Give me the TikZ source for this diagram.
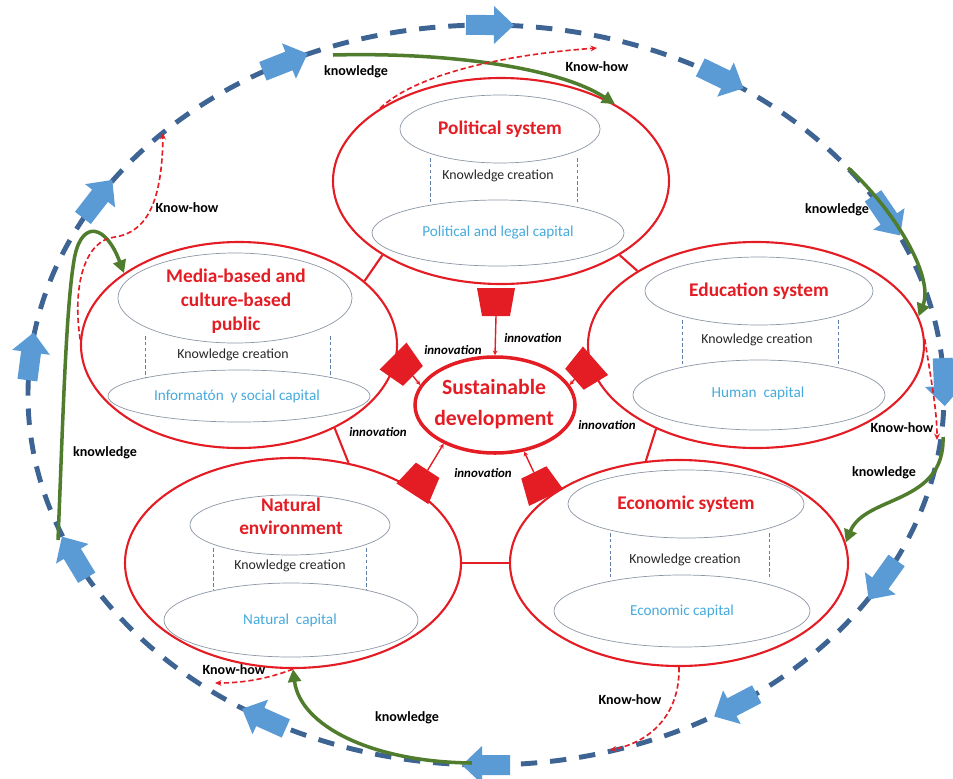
\documentclass[tikz,border=0pt]{standalone}
\usepackage{fontspec}
\setmainfont{Carlito}
\usetikzlibrary{shapes.geometric,arrows.meta,calc}
\definecolor{rl}{RGB}{228,28,36}
\definecolor{grayline}{RGB}{140,150,165}
\definecolor{dblue}{RGB}{95,125,165}
\definecolor{capblue}{RGB}{70,170,220}
\definecolor{grn}{RGB}{80,125,45}
\definecolor{bfill}{RGB}{91,155,213}
\definecolor{bdash}{RGB}{62,100,148}
\begin{document}
\begin{tikzpicture}[x=0.03cm,y=-0.03cm,
  outerell/.style={ellipse, draw=rl, line width=1.8pt, inner sep=0pt},
  innerell/.style={ellipse, draw=grayline, line width=0.6pt, inner sep=0pt},
  titletxt/.style={text=rl, font=\fontsize{16.5}{20.5}\selectfont\bfseries, align=center, inner sep=0pt},
  kctxt/.style={font=\fontsize{11.8}{14}\selectfont, text=black!85, inner sep=0pt},
  captxt/.style={font=\fontsize{13}{15}\selectfont, text=capblue, inner sep=0pt},
  labtxt/.style={font=\fontsize{12}{14}\selectfont\bfseries, inner sep=0pt},
  innotxt/.style={font=\fontsize{11}{13}\selectfont\bfseries\itshape, inner sep=0pt},
  dline/.style={draw=dblue, line width=0.8pt, dash pattern=on 3pt off 2pt},
  blkfill/.style={fill=rl},
  inline/.style={draw=rl, line width=1.2pt, -{Stealth[length=4pt,width=4pt]}},
  conline/.style={draw=rl, line width=1.8pt},
  grarrow/.style={draw=grn, line width=3pt, -{Triangle[length=11pt,width=11pt]}},
  kharrow/.style={draw=rl, line width=1.4pt, dash pattern=on 4.5pt off 2.5pt, -{Stealth[length=5.5pt,width=5pt]}},
  barrow/.style={fill=bfill}
]
\useasboundingbox (0,0) rectangle (953,778);
\clip (0,0) rectangle (953,778);

% outer dashed cycle
\draw[draw=bdash, line width=4.2pt, dash pattern=on 14pt off 11pt] (486,395) ellipse [x radius=13.74cm, y radius=11.1cm];
\foreach \t in {89.5,116,148,174,206,241,270,303,330,2,29,59} {
  \pgfmathsetmacro\bx{486+458*cos(\t)}
  \pgfmathsetmacro\by{395-370*sin(\t)}
  \pgfmathsetmacro\ba{atan2(-370*cos(\t),458*sin(\t))}
  \begin{scope}[shift={(\bx,\by)}, rotate=\ba]
    \fill[barrow] (-24,-10) -- (4,-10) -- (4,-19) -- (24,0) -- (4,19) -- (4,10) -- (-24,10) -- cycle;
  \end{scope}
}

% outer system ellipses
\node[outerell, minimum width=10.08cm, minimum height=6.18cm] (pol) at (501,181) {};
\node[outerell, minimum width=9.48cm, minimum height=6.18cm] (med) at (239,345) {};
\node[outerell, minimum width=10.08cm, minimum height=6.18cm] (edu) at (756,345) {};
\node[outerell, minimum width=10.08cm, minimum height=6.30cm] (nat) at (293,563) {};
\node[outerell, minimum width=10.14cm, minimum height=6.18cm] (eco) at (679,563) {};

% connecting lines
\draw[conline] (pol.212) -- (med.27);
\draw[conline] (pol.-32) -- (edu.148);
\draw[conline] (med.-41) -- (nat.61);
\draw[conline] (edu.220) -- (eco.108);
\draw[conline] (nat.0) -- (eco.180);

% Political system
\node[innerell, minimum width=6cm, minimum height=2.04cm] (pt) at (500,129) {};
\node[titletxt] (ptt) at (pt) {Political system};
\node[innerell, minimum width=7.56cm, minimum height=1.98cm] (pb) at (498,233) {};
\node[captxt] (pbt) at (pb) {Political and legal capital};
\node[kctxt] (pk) at (498,176) {Knowledge creation};
\draw[dline] (430,158) -- (430,202);
\draw[dline] (577,158) -- (577,202);

% Media
\node[innerell, minimum width=7.02cm, minimum height=2.7cm] (mt) at (235,298) {};
\node[titletxt] (mtt) at (236,301) {Media-based and\\culture-based\\public};
\node[innerell, minimum width=7.86cm, minimum height=1.56cm] (mb) at (239,396) {};
\node[captxt] (mbt) at (237,396) {Informatón~ y social capital};
\node[kctxt] (mk) at (233,355) {Knowledge creation};
\draw[dline] (145,336) -- (145,378);
\draw[dline] (330,336) -- (330,378);

% Education
\node[innerell, minimum width=6.84cm, minimum height=2.04cm] (et) at (759,291) {};
\node[titletxt] (ett) at (et) {Education system};
\node[innerell, minimum width=7.56cm, minimum height=2.1cm] (eb) at (759,395) {};
\node[captxt] (ebt) at (758,393) {Human~ capital};
\node[kctxt] (ek) at (757,340) {Knowledge creation};
\draw[dline] (682,320) -- (682,364);
\draw[dline] (838,320) -- (838,364);

% Natural
\node[innerell, minimum width=6cm, minimum height=1.8cm] (nt) at (290,525) {};
\node[titletxt] (ntt) at (291,516) {Natural\\[-1pt]environment};
\node[innerell, minimum width=7.62cm, minimum height=2.22cm] (nb) at (291,620) {};
\node[captxt] (nbt) at (290,620) {Natural~ capital};
\node[kctxt] (nk) at (290,566) {Knowledge creation};
\draw[dline] (213,548) -- (213,590);
\draw[dline] (366,548) -- (366,590);

% Economic
\node[innerell, minimum width=7.08cm, minimum height=2.04cm] (ct) at (686,504) {};
\node[titletxt] (ctt) at (ct) {Economic system};
\node[innerell, minimum width=7.68cm, minimum height=2.16cm] (cb) at (682,611) {};
\node[captxt] (cbt) at (cb) {Economic capital};
\node[kctxt] (ck) at (685,560) {Knowledge creation};
\draw[dline] (610,533) -- (610,577);
\draw[dline] (769,533) -- (769,577);

% Sustainable development
\node[ellipse, draw=rl, line width=3pt, minimum width=4.8cm, minimum height=2.88cm, inner sep=0pt] (sd) at (495,405) {};
\node[text=rl, font=\fontsize{18.5}{27}\selectfont\bfseries, align=center, inner sep=0pt] (sdt) at (494,404) {Sustainable\\development};

% innovation blocks (trapezoids pointing toward the centre)
\foreach \name/\cx/\cy/\ang in {b1/496/302/-90, b2/403/366/-45, b3/585/370/-138.6, b4/420/482/57, b5/540/485/116} {
  \begin{scope}[shift={(\cx,\cy)}, rotate=\ang]
    \fill[blkfill] (-14,-19) -- (14,-14) -- (14,14) -- (-14,19) -- cycle;
    \coordinate (\name) at (14,0);
  \end{scope}
}
\draw[inline] (b1) -- (sd.90);
\draw[inline] (b2) -- (sd.165);
\draw[inline] (b3) -- (sd.15);
\draw[inline] (b4) -- (sd.217);
\draw[inline] (b5) -- (sd.302);
\node[innotxt] (i1) at (533,338) {innovation};
\node[innotxt] (i2) at (453,350) {innovation};
\node[innotxt] (i3) at (378,432) {innovation};
\node[innotxt] (i4) at (607,425) {innovation};
\node[innotxt] (i5) at (483,473) {innovation};

% green knowledge arrows
\coordinate (g1s) at (333,55);
\coordinate (g2s) at (848,168);
\coordinate (g3s) at (943,437);
\coordinate (g4s) at (472,763);
\coordinate (g5s) at (58,540);
\draw[grarrow] (g1s) .. controls (450,52) and (560,68) .. (pol.34);
\draw[grarrow] (g2s) .. controls (890,205) and (935,275) .. (edu.10);
\draw[grarrow] (g3s) .. controls (945,505) and (865,495) .. (eco.7);
\draw[grarrow] (g4s) .. controls (370,762) and (300,725) .. (nat.south);
\draw[grarrow] (g5s) .. controls (63,420) and (66,300) .. (75,255) .. controls (83,220) and (106,225) .. (med.148);

% know-how dashed arrows
\coordinate (k1e) at (597,48);
\coordinate (k2e) at (163,133);
\coordinate (k3e) at (937,440);
\coordinate (k4e) at (215,683);
\coordinate (k5e) at (610,750);
\draw[kharrow] (pol.149) .. controls (415,75) and (500,55) .. (k1e);
\draw[kharrow] (med.178) .. controls (72,285) and (85,240) .. (115,237) .. controls (148,232) and (162,200) .. (k2e);
\draw[kharrow] (edu.2) .. controls (931,380) and (937,410) .. (k3e);
\draw[kharrow] (nat.south) .. controls (270,678) and (245,683) .. (k4e);
\draw[kharrow] (eco.south) .. controls (680,715) and (650,742) .. (k5e);

% labels
\node[labtxt] (l1) at (356,72) {knowledge};
\node[labtxt] (l2) at (597,67) {Know-how};
\node[labtxt] (l3) at (187,208) {Know-how};
\node[labtxt] (l4) at (837,210) {knowledge};
\node[labtxt] (l5) at (902,428) {Know-how};
\node[labtxt] (l6) at (884,473) {knowledge};
\node[labtxt] (l7) at (105,453) {knowledge};
\node[labtxt] (l8) at (234,670) {Know-how};
\node[labtxt] (l9) at (407,718) {knowledge};
\node[labtxt] (l10) at (630,700) {Know-how};
\end{tikzpicture}
\end{document}
